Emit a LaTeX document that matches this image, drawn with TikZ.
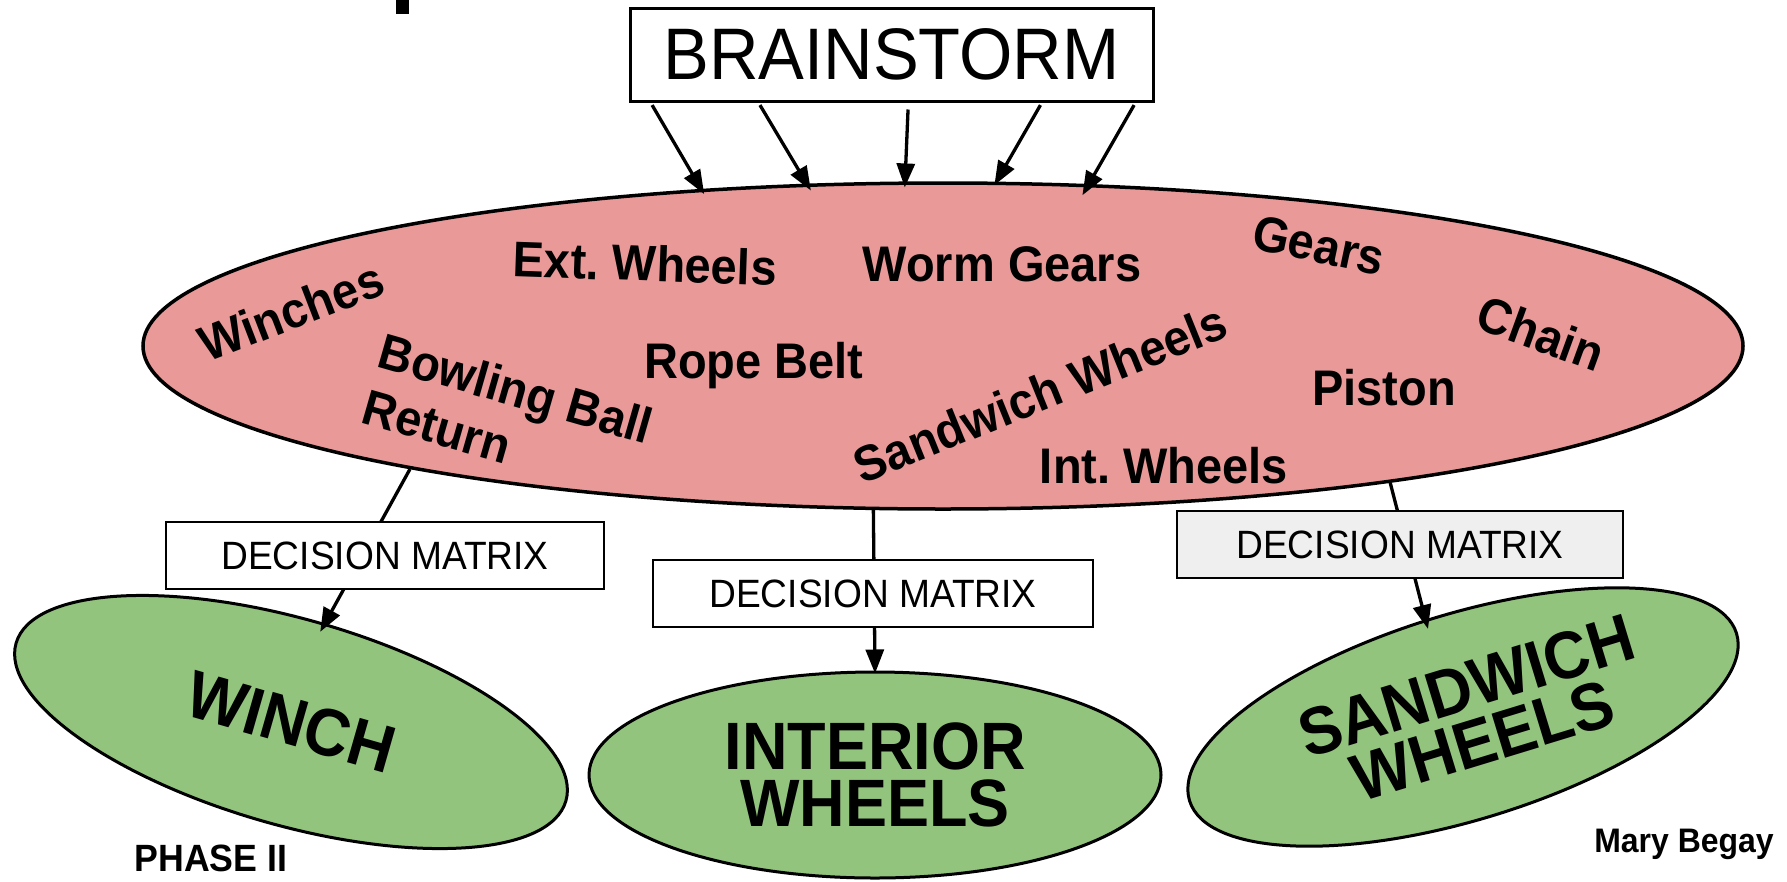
\documentclass[tikz,border=0pt]{standalone}
\usepackage{fontspec}
\setmainfont{Liberation Sans}
\newfontfamily\lab[FakeStretch=0.94]{Liberation Sans}
\usetikzlibrary{shapes.geometric,arrows.meta,calc}
\definecolor{pinkfill}{HTML}{EA9999}
\definecolor{greenfill}{HTML}{93C47D}
\definecolor{grayfill}{HTML}{EFEFEF}
\frenchspacing
\begin{document}
\begin{tikzpicture}[x=1pt,y=-1pt,
  idea/.style={font=\lab\bfseries\fontsize{50}{58}\selectfont, text depth=0pt, inner sep=0pt},
  conn/.style={line width=3.3pt, -{Triangle[length=24pt,width=18pt]}},
  dmbox/.style={draw, line width=2pt, fill=white, minimum height=67pt, inner sep=0pt,
    font=\lab\fontsize{39.5}{46}\selectfont},
  greenell/.style={ellipse, draw, line width=3pt, fill=greenfill, minimum width=572pt,
    minimum height=206pt, inner sep=0pt, align=center,
    font=\lab\bfseries\fontsize{67}{57}\selectfont},
]
\useasboundingbox (0,0) rectangle (1787,881);
\fill (396,0) rectangle (409,14);

\node[draw, line width=3pt, minimum width=523pt, minimum height=93pt, inner sep=0pt,
  font=\lab\fontsize{73}{80}\selectfont] (bs) at (891.5,54.5) {BRAINSTORM};

\node[ellipse, draw, line width=3.5pt, fill=pinkfill, minimum width=1600pt,
  minimum height=326pt, inner sep=0pt] (pink) at (943,346) {};

\node[greenell, rotate=-16] (winch) at (291,722) {WINCH};
\node[greenell] (inter) at (875,775) {INTERIOR\\WHEELS};
\node[greenell, rotate=17] (sand) at (1463,717) {\hspace*{24pt}SANDWICH\\\hspace*{24pt}WHEELS};

\draw[conn, shorten <=3pt, shorten >=-6pt] ($(bs.south west)!0.042!(bs.south east)$) -- (pink.147.3);
\draw[conn, shorten <=3pt, shorten >=-8pt] ($(bs.south west)!0.247!(bs.south east)$) -- (pink.130.7);
\draw[conn, shorten <=7pt, shorten >=-6pt] ($(bs.south west)!0.532!(bs.south east)$) -- (pink.103.5);
\draw[conn, shorten <=3pt, shorten >=-4pt] ($(bs.south west)!0.786!(bs.south east)$) -- (pink.72.6);
\draw[conn, shorten <=3pt, shorten >=-13pt] ($(bs.south west)!0.964!(bs.south east)$) -- (pink.48.9);

\draw[conn, shorten >=-10pt] (pink.193.1) -- (winch.87);
\draw[conn, shorten >=-3pt] (pink.247.3) -- (inter.north);
\draw[conn, shorten >=-10pt] (pink.-17.56) -- (sand.94);

\node[dmbox, minimum width=438pt] (dm1) at (385,555.5) {DECISION MATRIX};
\node[dmbox, minimum width=440pt] (dm2) at (873,593.5) {DECISION MATRIX};
\node[dmbox, minimum width=446pt, fill=grayfill] (dm3) at (1400,544.5) {DECISION MATRIX};

\node[idea, rotate=21] (winches) at (291,311) {Winches};
\node[idea, rotate=-2] (ext) at (645,263) {Ext. Wheels};
\node[idea] (worm) at (1002,264) {Worm Gears};
\node[idea, rotate=-12] (gears) at (1319,245) {Gears};
\node[idea, rotate=-20] (chain) at (1541,333) {Chain};
\node[idea] (rope) at (754,360) {Rope Belt};
\node[idea, rotate=22] (sandw) at (1040,393) {Sandwich Wheels};
\node[idea] (piston) at (1384,387) {Piston};
\node[idea] (intw) at (1164,465) {Int. Wheels};
\node[idea, rotate=-16, align=left] (bowling) at (508,416) {Bowling Ball\\Return};

\node[font=\lab\bfseries\fontsize{38}{44}\selectfont, inner sep=0pt, text depth=0pt] (phase) at (211,858) {PHASE II};
\node[font=\lab\bfseries\fontsize{34}{40}\selectfont, inner sep=0pt] (mary) at (1684,844) {Mary Begay};
\end{tikzpicture}
\end{document}
